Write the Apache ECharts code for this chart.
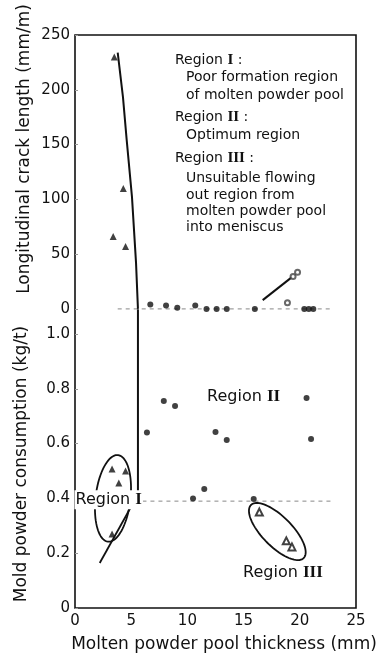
<!DOCTYPE html>
<html>
<head>
<meta charset="utf-8">
<script src="https://cdn.jsdelivr.net/npm/echarts@6/dist/echarts.min.js"></script>
<style>
  html, body { margin: 0; padding: 0; background: #fff; }
  #chart { width: 382px; height: 659px; }
</style>
</head>
<body>
<div id="chart"></div>
<script>
// Tick labels
const xTicks = [0, 5, 10, 15, 20, 25];
const crackTicks = [0, 50, 100, 150, 200, 250];
const consTicks = [0, 0.2, 0.4, 0.6, 0.8, 1.0];

// Upper panel: longitudinal crack length (mm/m) vs pool thickness (mm)
const crackRegionI = [[3.5, 230], [4.3, 110], [3.4, 66], [4.5, 57]];
const crackRegionII = [[6.7, 4], [8.1, 3], [9.1, 1], [10.7, 3], [11.7, 0], [12.6, 0], [13.5, 0], [16.0, 0], [20.4, 0], [20.8, 0], [21.2, 0]];
const crackRegionIII = [[18.9, 5.5], [19.4, 29.5], [19.8, 33.5]];

// Lower panel: mold powder consumption (kg/t) vs pool thickness (mm)
const consRegionI = [[3.3, 0.507], [4.5, 0.50], [3.9, 0.456], [3.3, 0.27]];
const consRegionII = [[6.4, 0.64], [7.9, 0.755], [8.9, 0.737], [10.5, 0.40], [11.5, 0.434], [12.5, 0.642], [13.5, 0.613], [15.9, 0.398], [20.6, 0.766], [21.0, 0.617]];
const consRegionIII = [[16.4, 0.35], [18.8, 0.245], [19.3, 0.223]];

// Guide lines
const boundaryCrack = [[3.8, 234], [4.27, 193], [4.6, 154], [5.07, 102], [5.43, 42], [5.6, 0]];
const boundaryCons = [[5.6, 1.09], [5.6, 0.42]];
const regionILine = [[2.2, 0.164], [5.2, 0.385]];
const regionIIITrend = [[16.7, 8], [19.3, 29]];
const crackBase = [[3.8, 0], [22.9, 0]];
const consBase = [[6.0, 0.39], [22.9, 0.39]];

// Region outlines: centre x, centre y, tip of long axis x, y, short/long ratio
const regionOutlines = [[3.38, 0.40, 3.83, 0.558, 0.4], [18.0, 0.279, 15.66, 0.376, 0.4]];

// Region names placed in the lower panel: x, y, numeral
const regionNames = [[3.0, 0.395, 'I'], [15.0, 0.77, 'II'], [18.5, 0.128, 'III']];

const SANS = 'DejaVu Sans';
const SERIF = 'Liberation Serif';
const INK = '#111';

const chart = echarts.init(document.getElementById('chart'), null, { renderer: 'canvas' });

function textLine(str, left, cy, size) {
  return {
    type: 'text', x: left, y: cy, z: 50,
    style: {
      text: str, fill: INK, font: size + 'px "' + SANS + '"',
      textVerticalAlign: 'middle',
      rich: { n: { fontFamily: SERIF, fontSize: size + 1, fontWeight: 'bold', fill: INK } }
    }
  };
}

const axisLabelBase = { fontFamily: SANS, fontSize: 15, color: INK };

const option = {
  animation: false,
  backgroundColor: '#fff',
  grid: { left: 75, right: 26, top: 35, bottom: 51, show: true, borderColor: INK, borderWidth: 1.6 },
  xAxis: {
    type: 'value', min: 0, max: 25, interval: 5,
    axisLine: { show: false }, axisTick: { show: false }, splitLine: { show: false },
    axisLabel: Object.assign({ margin: 6, customValues: xTicks }, axisLabelBase)
  },
  yAxis: [
    {
      type: 'value', min: -273, max: 250, position: 'left',
      axisLine: { show: false }, splitLine: { show: false },
      axisTick: { show: true, inside: true, length: 3, customValues: crackTicks, lineStyle: { color: '#999' } },
      axisLabel: Object.assign({ margin: 5, customValues: crackTicks }, axisLabelBase)
    },
    {
      type: 'value', min: 0, max: 2.091, position: 'left',
      axisLine: { show: false }, splitLine: { show: false },
      axisTick: { show: true, inside: true, length: 3, customValues: consTicks, lineStyle: { color: '#999' } },
      axisLabel: Object.assign({
        margin: 5, customValues: consTicks,
        formatter: v => (v === 0 ? '0' : v.toFixed(1))
      }, axisLabelBase)
    }
  ],
  series: [
    { type: 'line', yAxisIndex: 0, data: crackBase, symbol: 'none', lineStyle: { color: '#888', width: 1, type: [4, 4] }, z: 1 },
    { type: 'line', yAxisIndex: 1, data: consBase, symbol: 'none', lineStyle: { color: '#888', width: 1, type: [4, 4] }, z: 1 },
    { type: 'line', yAxisIndex: 0, data: boundaryCrack, symbol: 'none', lineStyle: { color: INK, width: 2 }, z: 2 },
    { type: 'line', yAxisIndex: 1, data: boundaryCons, symbol: 'none', lineStyle: { color: INK, width: 2 }, z: 2 },
    { type: 'line', yAxisIndex: 1, data: regionILine, symbol: 'none', lineStyle: { color: INK, width: 1.8 }, z: 2 },
    { type: 'line', yAxisIndex: 0, data: regionIIITrend, symbol: 'none', lineStyle: { color: INK, width: 2 }, z: 2 },
    {
      type: 'custom', yAxisIndex: 1, data: regionOutlines, encode: { x: [0, 2], y: [1, 3] }, z: 3,
      renderItem: function (params, api) {
        const c = api.coord([api.value(0), api.value(1)]);
        const t = api.coord([api.value(2), api.value(3)]);
        const a = Math.hypot(t[0] - c[0], t[1] - c[1]);
        const b = a * api.value(4);
        const th = Math.atan2(t[1] - c[1], t[0] - c[0]);
        const pts = [];
        for (let i = 0; i < 90; i++) {
          const s = (i / 90) * Math.PI * 2;
          pts.push([
            c[0] + a * Math.cos(s) * Math.cos(th) - b * Math.sin(s) * Math.sin(th),
            c[1] + a * Math.cos(s) * Math.sin(th) + b * Math.sin(s) * Math.cos(th)
          ]);
        }
        return { type: 'polygon', shape: { points: pts }, style: { fill: 'none', stroke: INK, lineWidth: 1.8 } };
      }
    },
    { type: 'scatter', yAxisIndex: 0, data: crackRegionI, symbol: 'triangle', symbolSize: 7, itemStyle: { color: INK }, z: 5 },
    { type: 'scatter', yAxisIndex: 0, data: crackRegionII, symbol: 'circle', symbolSize: 6, itemStyle: { color: INK }, z: 5 },
    { type: 'scatter', yAxisIndex: 0, data: crackRegionIII, symbol: 'emptyCircle', symbolSize: 5, itemStyle: { color: '#444', borderColor: '#444', borderWidth: 0.8 }, z: 5 },
    { type: 'scatter', yAxisIndex: 1, data: consRegionI, symbol: 'triangle', symbolSize: 7, itemStyle: { color: INK }, z: 5 },
    { type: 'scatter', yAxisIndex: 1, data: consRegionII, symbol: 'circle', symbolSize: 6, itemStyle: { color: INK }, z: 5 },
    { type: 'scatter', yAxisIndex: 1, data: consRegionIII, symbol: 'emptyTriangle', symbolSize: 7, itemStyle: { color: INK, borderColor: INK, borderWidth: 0.9 }, z: 5 },
    {
      type: 'custom', yAxisIndex: 1, data: regionNames.map(r => [r[0], r[1]]), z: 10,
      renderItem: function (params, api) {
        const p = api.coord([api.value(0), api.value(1)]);
        const numeral = regionNames[params.dataIndex][2];
        return {
          type: 'text', x: p[0], y: p[1],
          style: {
            text: 'Region {n|' + numeral + '}',
            font: '16px "' + SANS + '"', fill: INK,
            textAlign: 'center', textVerticalAlign: 'middle',
            backgroundColor: params.dataIndex === 0 ? '#fff' : null,
            padding: [1, 1],
            rich: { n: { fontFamily: SERIF, fontSize: 17, fontWeight: 'bold', fill: INK } }
          }
        };
      }
    }
  ],
  graphic: [
    textLine('Region {n|I} :', 175, 60, 14),
    textLine('Poor formation region', 186, 77, 14),
    textLine('of molten powder pool', 186, 95, 14),
    textLine('Region {n|II} :', 175, 117, 14),
    textLine('Optimum region', 186, 135, 14),
    textLine('Region {n|III} :', 175, 158, 14),
    textLine('Unsuitable flowing', 186, 178, 14),
    textLine('out region from', 186, 195, 14),
    textLine('molten powder pool', 186, 211, 14),
    textLine('into meniscus', 186, 227, 14),
    {
      type: 'text', x: 25, y: 149, rotation: Math.PI / 2,
      style: { text: 'Longitudinal crack length (mm/m)', font: '17px "' + SANS + '"', fill: INK, textAlign: 'center', textVerticalAlign: 'middle' }
    },
    {
      type: 'text', x: 22, y: 464, rotation: Math.PI / 2,
      style: { text: 'Mold powder consumption (kg/t)', font: '17px "' + SANS + '"', fill: INK, textAlign: 'center', textVerticalAlign: 'middle' }
    },
    {
      type: 'text', x: 224, y: 645,
      style: { text: 'Molten powder pool thickness (mm)', font: '17px "' + SANS + '"', fill: INK, textAlign: 'center', textVerticalAlign: 'middle' }
    }
  ]
};

chart.setOption(option);
</script>
</body>
</html>
